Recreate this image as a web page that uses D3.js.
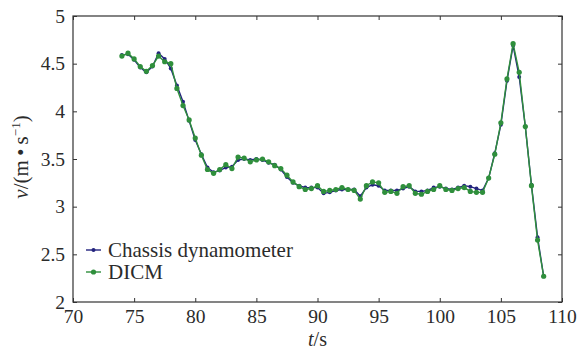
<!DOCTYPE html>
<meta charset="utf-8">
<script src="https://d3js.org/d3.v7.min.js"></script>
<style>
  body { margin: 0; background: #fff; }
</style>
<div id="chart"></div>
<script>

// time stamps (s)
var times = [74, 74.5, 75, 75.5, 76, 76.5, 77, 77.5, 78, 78.5, 79, 79.5, 80, 80.5, 81, 81.5,
  82, 82.5, 83, 83.5, 84, 84.5, 85, 85.5, 86, 86.5, 87, 87.5, 88, 88.5, 89, 89.5,
  90, 90.5, 91, 91.5, 92, 92.5, 93, 93.5, 94, 94.5, 95, 95.5, 96, 96.5, 97, 97.5,
  98, 98.5, 99, 99.5, 100, 100.5, 101, 101.5, 102, 102.5, 103, 103.5, 104, 104.5,
  105, 105.5, 106, 106.5, 107, 107.5, 108, 108.5];

// speed measured by chassis dynamometer
var chassis = [4.59, 4.60, 4.54, 4.46, 4.41, 4.47, 4.61, 4.55, 4.45, 4.27, 4.10, 3.90, 3.70, 3.55, 3.41, 3.36,
  3.38, 3.41, 3.42, 3.49, 3.50, 3.49, 3.50, 3.49, 3.46, 3.44, 3.39, 3.31, 3.25, 3.22, 3.20, 3.20,
  3.20, 3.14, 3.15, 3.17, 3.18, 3.18, 3.18, 3.11, 3.20, 3.23, 3.22, 3.17, 3.17, 3.17, 3.19, 3.21,
  3.16, 3.16, 3.17, 3.20, 3.21, 3.19, 3.18, 3.20, 3.22, 3.21, 3.19, 3.17, 3.30, 3.56,
  3.86, 4.32, 4.69, 4.36, 3.84, 3.23, 2.68, 2.27];

// speed measured by DICM
var dicm = [4.58, 4.61, 4.55, 4.47, 4.42, 4.48, 4.58, 4.52, 4.50, 4.24, 4.06, 3.91, 3.72, 3.54, 3.39, 3.35,
  3.39, 3.44, 3.40, 3.52, 3.51, 3.47, 3.49, 3.50, 3.47, 3.43, 3.40, 3.33, 3.26, 3.21, 3.18, 3.19,
  3.22, 3.16, 3.17, 3.18, 3.20, 3.18, 3.17, 3.08, 3.22, 3.26, 3.25, 3.15, 3.16, 3.14, 3.21, 3.22,
  3.14, 3.13, 3.16, 3.18, 3.22, 3.18, 3.17, 3.19, 3.20, 3.16, 3.15, 3.15, 3.30, 3.55,
  3.88, 4.34, 4.71, 4.41, 3.84, 3.22, 2.65, 2.27];

var xTicks = [70, 75, 80, 85, 90, 95, 100, 105, 110];
var yTicks = [2, 2.5, 3, 3.5, 4, 4.5, 5];
var seriesNames = ["Chassis dynamometer", "DICM"];
var seriesColors = ["#23237e", "#2f8f3c"];

var FONT = "'Liberation Serif', 'Times New Roman', Tinos, 'Nimbus Roman', 'DejaVu Serif', serif";
var INK = "#2b2b2b";

var W = 585, H = 352;
var margin = {top: 16, right: 23, bottom: 50, left: 73},
    width = W - margin.left - margin.right,
    height = H - margin.top - margin.bottom;

var svg = d3.select("#chart")
  .append("svg")
    .attr("width", W)
    .attr("height", H)
  .append("g")
    .attr("transform", "translate(" + margin.left + "," + margin.top + ")");

var x = d3.scaleLinear().domain([70, 110]).range([0, width]);
var y = d3.scaleLinear().domain([2, 5]).range([height, 0]);

// axes with inward ticks, box on all sides
var tk = 4;
svg.append("g")
  .attr("transform", "translate(0," + height + ")")
  .call(d3.axisBottom(x).tickValues(xTicks).tickSize(-tk).tickPadding(8).tickFormat(d3.format("d")))
  .call(function(g) {
    g.select(".domain").remove();
    g.selectAll("text").attr("dy", "0.67em");
  });
svg.append("g")
  .call(d3.axisTop(x).tickValues(xTicks).tickSize(-tk).tickFormat(""))
  .call(function(g) { g.select(".domain").remove(); });
svg.append("g")
  .call(d3.axisLeft(y).tickValues(yTicks).tickSize(-tk).tickPadding(8).tickFormat(d3.format("")))
  .call(function(g) { g.select(".domain").remove(); });
svg.append("g")
  .attr("transform", "translate(" + width + ",0)")
  .call(d3.axisRight(y).tickValues(yTicks).tickSize(-tk).tickFormat(""))
  .call(function(g) { g.select(".domain").remove(); });

svg.selectAll(".tick line").attr("stroke", "#333");
svg.selectAll(".tick text").style("font-size", "19.5px");

svg.append("rect")
  .attr("width", width)
  .attr("height", height)
  .attr("fill", "none")
  .attr("stroke", "#333")
  .attr("stroke-width", 1.2);

// axis titles
svg.append("text")
  .attr("x", x(90))
  .attr("y", height + 44)
  .attr("text-anchor", "middle")
  .style("font-size", "20px")
  .html('<tspan font-style="italic">t</tspan>/s');

svg.append("text")
  .attr("transform", "translate(" + (-45) + "," + (height / 2 - 2) + ") rotate(-90)")
  .attr("text-anchor", "middle")
  .style("font-size", "21px")
  .html('<tspan font-style="italic">v</tspan>/(m\u2009•\u2009s<tspan dy="-8" font-size="13px">−1</tspan><tspan dy="8">)</tspan>');

// series
var line = d3.line()
  .x(function(d) { return x(d[0]); })
  .y(function(d) { return y(d[1]); });

var series = [chassis, dicm];
series.forEach(function(vals, k) {
  var pts = times.map(function(t, i) { return [t, vals[i]]; });
  svg.append("path")
    .datum(pts)
    .attr("fill", "none")
    .attr("stroke", seriesColors[k])
    .attr("stroke-width", 1.4)
    .attr("d", line);
  svg.selectAll(".dot" + k)
    .data(pts)
    .enter().append("circle")
    .attr("cx", function(d) { return x(d[0]); })
    .attr("cy", function(d) { return y(d[1]); })
    .attr("r", k === 0 ? 2 : 2.6)
    .attr("fill", seriesColors[k]);
});

// legend
var legend = svg.selectAll(".legend")
  .data(seriesNames)
  .enter().append("g")
  .attr("class", "legend")
  .attr("transform", function(d, i) { return "translate(13," + (234 + i * 22) + ")"; });

legend.append("line")
  .attr("x1", 0).attr("x2", 15)
  .attr("stroke", function(d, i) { return seriesColors[i]; })
  .attr("stroke-width", 1.4);
legend.append("circle")
  .attr("cx", 7.5)
  .attr("r", function(d, i) { return i === 0 ? 2 : 2.6; })
  .attr("fill", function(d, i) { return seriesColors[i]; });
legend.append("text")
  .attr("x", 22)
  .attr("dy", "0.33em")
  .style("font-size", "21px")
  .text(function(d) { return d; });

// serif font everywhere
d3.selectAll("svg text")
  .style("font-family", FONT)
  .style("fill", INK);

</script>
